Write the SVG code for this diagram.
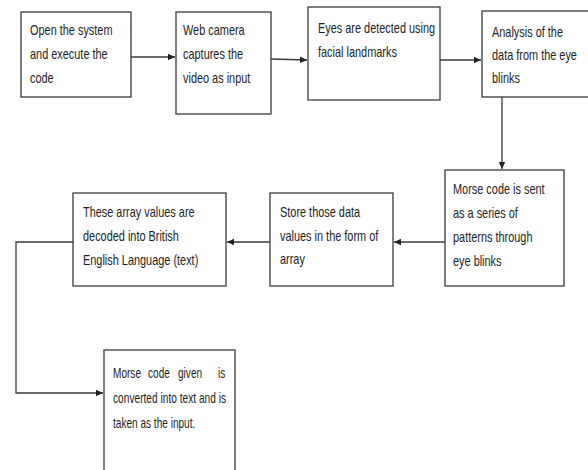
<svg xmlns="http://www.w3.org/2000/svg" width="588" height="470" viewBox="0 0 588 470">
<defs>
<marker id="ah" markerWidth="8" markerHeight="8" refX="7" refY="4" orient="auto" markerUnits="userSpaceOnUse">
<path d="M0,0.8 L7,4 L0,7.2 Z" fill="#222"/>
</marker>
<style>
.box{fill:#fff;stroke:#3a3a3a;stroke-width:1.3}
.t{font-family:"Liberation Sans",Arial,sans-serif;font-size:14px;fill:#1e1e1e}
.c{fill:none;stroke:#3a3a3a;stroke-width:1.3}
</style>
</defs>
<rect width="588" height="470" fill="#fff"/>
<g id="connectors">
<line class="c" x1="131" y1="57" x2="175" y2="57" marker-end="url(#ah)"/>
<line class="c" x1="271" y1="59" x2="307" y2="60" marker-end="url(#ah)"/>
<line class="c" x1="440" y1="60" x2="481" y2="60" marker-end="url(#ah)"/>
<line class="c" x1="502" y1="97" x2="502" y2="169" marker-end="url(#ah)"/>
<line class="c" x1="445" y1="242" x2="394" y2="242" marker-end="url(#ah)"/>
<line class="c" x1="270" y1="242" x2="227" y2="242" marker-end="url(#ah)"/>
<polyline class="c" points="73,242 16,242 16,393 103,393" marker-end="url(#ah)"/>
</g>
<g id="n1">
<rect class="box" x="21" y="12" width="110" height="85"/>
<text class="t" transform="translate(30,0) scale(0.78,1)"><tspan x="0" y="35">Open the system</tspan><tspan x="0" y="59">and execute the</tspan><tspan x="0" y="83">code</tspan></text>
</g>
<g id="n2">
<rect class="box" x="176" y="12" width="95" height="102"/>
<text class="t" transform="translate(183,0) scale(0.78,1)"><tspan x="0" y="35">Web camera</tspan><tspan x="0" y="59">captures the</tspan><tspan x="0" y="83">video as input</tspan></text>
</g>
<g id="n3">
<rect class="box" x="308" y="7" width="132" height="93"/>
<text class="t" transform="translate(318,0) scale(0.78,1)"><tspan x="0" y="33">Eyes are detected using</tspan><tspan x="0" y="57">facial landmarks</tspan></text>
</g>
<g id="n4">
<rect class="box" x="482" y="11" width="112" height="86"/>
<text class="t" transform="translate(492,0) scale(0.78,1)"><tspan x="0" y="37">Analysis of the</tspan><tspan x="0" y="60">data from the eye</tspan><tspan x="0" y="83">blinks</tspan></text>
</g>
<g id="n5">
<rect class="box" x="445" y="170" width="119" height="116"/>
<text class="t" transform="translate(453,0) scale(0.78,1)"><tspan x="0" y="194">Morse code is sent</tspan><tspan x="0" y="218">as a series of</tspan><tspan x="0" y="242">patterns through</tspan><tspan x="0" y="266">eye blinks</tspan></text>
</g>
<g id="n6">
<rect class="box" x="270" y="193" width="123" height="93"/>
<text class="t" transform="translate(280,0) scale(0.78,1)"><tspan x="0" y="217">Store those data</tspan><tspan x="0" y="241">values in the form of</tspan><tspan x="0" y="264">array</tspan></text>
</g>
<g id="n7">
<rect class="box" x="73" y="193" width="153" height="93"/>
<text class="t" transform="translate(83,0) scale(0.78,1)"><tspan x="0" y="217">These array values are</tspan><tspan x="0" y="241">decoded into British</tspan><tspan x="0" y="265">English Language (text)</tspan></text>
</g>
<g id="n8">
<rect class="box" x="104" y="350" width="131" height="130"/>
<text class="t" transform="translate(113,0) scale(0.72,1)"><tspan x="0" y="378">Morse</tspan><tspan x="48.6" y="378">code</tspan><tspan x="90.3" y="378">given</tspan><tspan x="145.8" y="378">is</tspan><tspan x="0" y="403" textLength="157" lengthAdjust="spacingAndGlyphs">converted into text and is</tspan><tspan x="0" y="428">taken as the input.</tspan></text>
</g>
</svg>
